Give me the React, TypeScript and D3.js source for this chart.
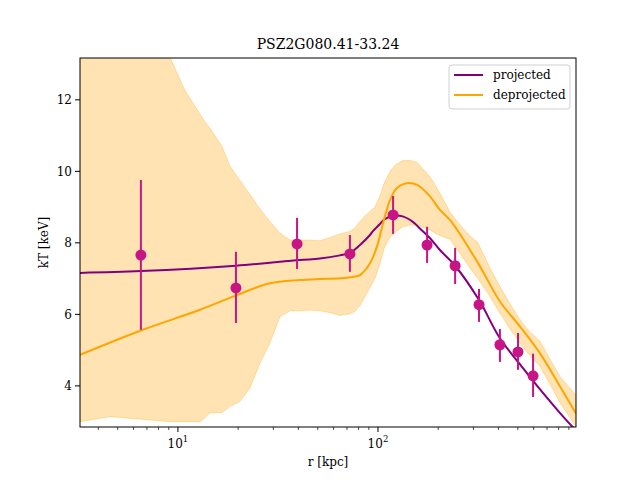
import * as d3 from "d3";

// measured profile points (r in kpc, kT in keV)
const obsR = [6.53, 19.5, 39.4, 72.4, 119, 176, 243, 320, 407, 501, 596];
const obsT = [7.66, 6.74, 7.97, 7.69, 8.78, 7.94, 7.36, 6.27, 5.15, 4.95, 4.28];
const obsLo = [5.57, 5.76, 7.27, 7.19, 8.25, 7.44, 6.85, 5.79, 4.67, 4.45, 3.69];
const obsHi = [9.76, 7.75, 8.7, 8.22, 9.31, 8.45, 7.86, 6.71, 5.59, 5.48, 4.9];

// projected model
const projR = [3.24, 6.53, 19.5, 40.7, 51.3, 64.6, 72.4, 81.3, 91.2, 94.4, 102, 108, 119, 133, 150, 162, 182, 204, 243, 320, 407, 513, 646, 813, 977];
const projT = [7.16, 7.21, 7.36, 7.52, 7.56, 7.65, 7.72, 7.94, 8.22, 8.33, 8.52, 8.66, 8.76, 8.74, 8.58, 8.4, 8.13, 7.8, 7.36, 6.4, 5.33, 4.6, 3.9, 3.24, 2.75];

// deprojected model
const deprR = [3.24, 6.53, 12.9, 19.5, 28.8, 40.7, 51.3, 64.6, 76.7, 81.3, 91.2, 98.9, 106, 115, 124, 140, 157, 182, 204, 229, 316, 407, 513, 646, 813, 977];
const deprT = [4.87, 5.55, 6.13, 6.53, 6.87, 6.96, 6.99, 7.01, 7.06, 7.1, 7.43, 7.9, 8.55, 9.2, 9.53, 9.67, 9.62, 9.3, 8.92, 8.64, 7.44, 6.36, 5.66, 4.91, 3.98, 3.23];

// deprojected uncertainty band
const bandR = [3.24, 4.57, 6.53, 9.12, 10.8, 12.9, 13.6, 14.5, 16.6, 18.2, 20.4, 22.9, 25.7, 28.8, 32.4, 36.3, 40.7, 45.7, 51.3, 57.5, 64.6, 72.4, 76.7, 81.3, 86.1, 91.2, 96.6, 102, 108, 115, 122, 133, 145, 157, 182, 204, 229, 257, 288, 316, 363, 407, 457, 513, 575, 646, 724, 813, 891, 977];
const bandLo = [3.0, 3.14, 3.07, 3.0, 3.0, 3.0, 3.1, 3.25, 3.25, 3.42, 3.56, 3.94, 4.63, 5.19, 5.94, 6.1, 6.1, 6.12, 6.1, 6.05, 5.97, 6.02, 6.08, 6.25, 6.5, 6.75, 7.0, 7.4, 7.9, 8.15, 8.3, 8.45, 8.5, 8.5, 8.36, 8.2, 8.1, 7.7, 7.3, 7.0, 6.5, 6.03, 5.6, 5.19, 4.85, 4.54, 4.05, 3.52, 3.2, 2.85];
const bandHi = [14.5, 14.5, 14.5, 13.2, 12.28, 11.6, 11.4, 11.2, 10.7, 10.15, 9.75, 9.35, 8.95, 8.6, 8.27, 8.08, 8.08, 8.08, 8.06, 8.15, 8.25, 8.32, 8.42, 8.6, 8.75, 8.88, 9.0, 9.3, 9.7, 10.0, 10.18, 10.3, 10.3, 10.25, 9.85, 9.39, 8.86, 8.5, 8.2, 8.0, 7.3, 6.78, 6.3, 5.85, 5.5, 5.25, 4.75, 4.26, 4.0, 3.75];

const yTicks = [4, 6, 8, 10, 12];
const xMajor = [10, 100];
const xMinor = [4, 5, 6, 7, 8, 9, 20, 30, 40, 50, 60, 70, 80, 90, 200, 300, 400, 500, 600, 700, 800, 900];

const W = 640;
const H = 480;
const margin = { left: 80, right: 64, top: 58, bottom: 53 };
const font = "DejaVu Serif";

export default function App() {
  const x = d3.scaleLog().domain([3.24, 977]).range([margin.left, W - margin.right]);
  const y = d3.scaleLinear().domain([2.85, 13.17]).range([H - margin.bottom, margin.top]);

  const line = d3
    .line<[number, number]>()
    .x((d) => x(d[0]))
    .y((d) => y(d[1]))
    .curve(d3.curveCatmullRom);

  const area = d3
    .area<number>()
    .x((i) => x(bandR[i]))
    .y0((i) => y(bandLo[i]))
    .y1((i) => y(bandHi[i]));

  const projPts = projR.map((r, i) => [r, projT[i]] as [number, number]);
  const deprPts = deprR.map((r, i) => [r, deprT[i]] as [number, number]);
  const x0 = margin.left;
  const x1 = W - margin.right;
  const y0 = H - margin.bottom;
  const y1 = margin.top;

  return (
    <svg
      width={W}
      height={H}
      style={{ position: "absolute", left: 0, top: 0, background: "#fff" }}
    >
      <defs>
        <clipPath id="plot">
          <rect x={x0} y={y1} width={x1 - x0} height={y0 - y1} />
        </clipPath>
      </defs>
      <g fontFamily={font}>
        <text x={(x0 + x1) / 2} y={49} textAnchor="middle" fontSize={14}>
          PSZ2G080.41-33.24
        </text>
      </g>

      <g clipPath="url(#plot)">
        <path
          d={area(d3.range(bandR.length)) || ""}
          fill="#ffe3b2"
          stroke="#ffa500"
          strokeOpacity={0.3}
          strokeWidth={1}
        />
        <path d={line(projPts) || ""} fill="none" stroke="#800080" strokeWidth={2} />
        <path d={line(deprPts) || ""} fill="none" stroke="#ffa500" strokeWidth={2} />
        {obsR.map((r, i) => (
          <g key={i}>
            <line x1={x(r)} x2={x(r)} y1={y(obsLo[i])} y2={y(obsHi[i])} stroke="#c71585" strokeWidth={2} />
            <circle cx={x(r)} cy={y(obsT[i])} r={5.5} fill="#c71585" />
          </g>
        ))}
      </g>

      <rect x={x0} y={y1} width={x1 - x0} height={y0 - y1} fill="none" stroke="#000" strokeWidth={1} />

      <g fontFamily={font} fontSize={12}>
        {yTicks.map((t) => (
          <g key={t}>
            <line x1={x0 - 5} x2={x0} y1={y(t)} y2={y(t)} stroke="#000" />
            <text x={x0 - 8} y={y(t) + 4.5} textAnchor="end">
              {t}
            </text>
          </g>
        ))}
        {xMinor.map((t) => (
          <line key={t} x1={x(t)} x2={x(t)} y1={y0} y2={y0 + 3} stroke="#000" strokeWidth={0.7} />
        ))}
        {xMajor.map((t, i) => (
          <g key={t}>
            <line x1={x(t)} x2={x(t)} y1={y0} y2={y0 + 5} stroke="#000" />
            <text x={x(t)} y={y0 + 21} textAnchor="middle">
              10
              <tspan dy={-6} fontSize={8.5}>
                {i + 1}
              </tspan>
            </text>
          </g>
        ))}
        <text x={(x0 + x1) / 2} y={466} textAnchor="middle">
          r [kpc]
        </text>
        <text transform={`translate(48, ${(y0 + y1) / 2}) rotate(-90)`} textAnchor="middle">
          kT [keV]
        </text>

        <rect x={449} y={65} width={121} height={44} rx={3} fill="#fff" fillOpacity={0.8} stroke="#d0d0d0" />
        <line x1={454} x2={483} y1={75} y2={75} stroke="#800080" strokeWidth={2} />
        <line x1={454} x2={483} y1={95} y2={95} stroke="#ffa500" strokeWidth={2} />
        <text x={493} y={79}>
          projected
        </text>
        <text x={493} y={99}>
          deprojected
        </text>
      </g>
    </svg>
  );
}
